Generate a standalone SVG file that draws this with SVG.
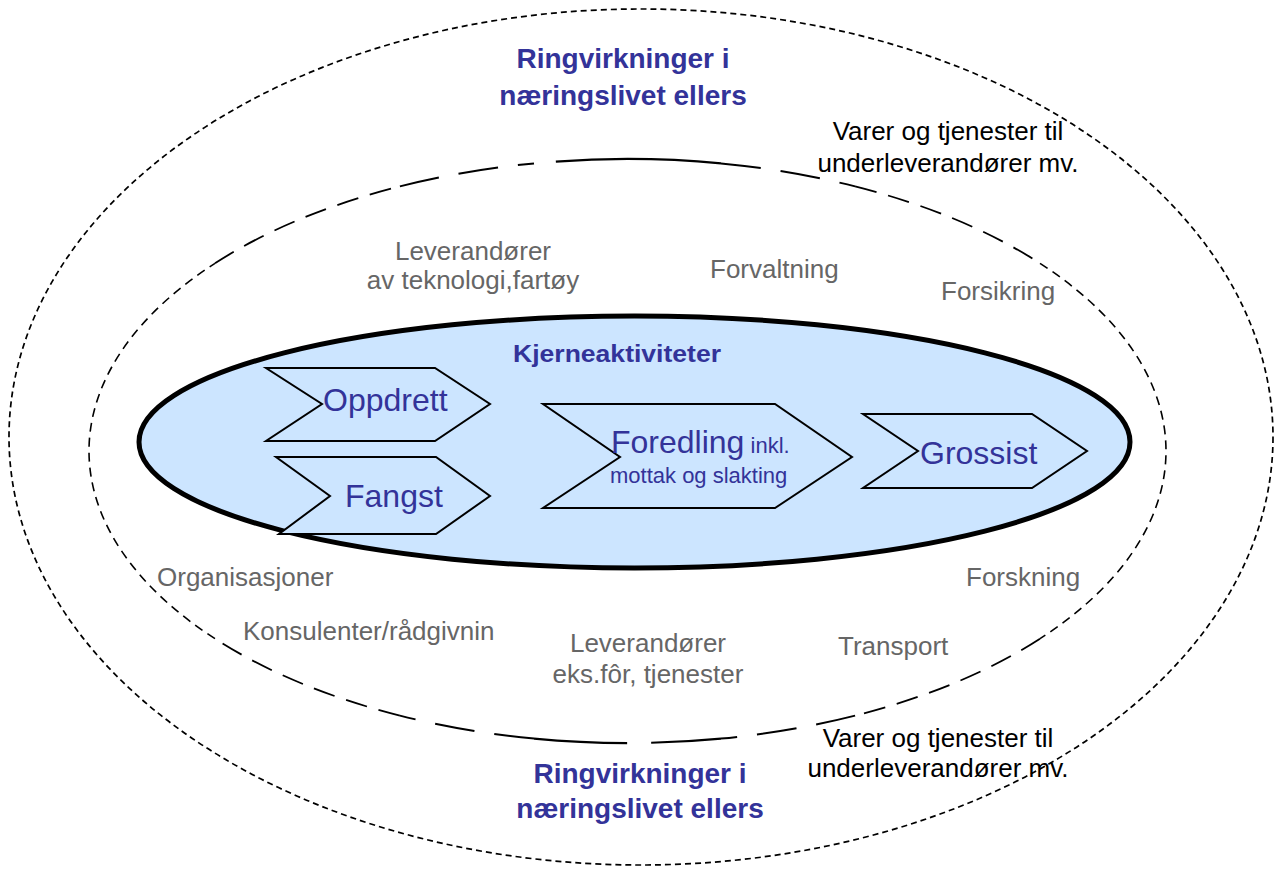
<svg xmlns="http://www.w3.org/2000/svg" width="1283" height="870" viewBox="0 0 1283 870">
<style>
.hd{font-family:"Liberation Sans",Arial,sans-serif;font-weight:bold;fill:#333399;font-size:28px;text-anchor:middle}
.gr{font-family:"Liberation Sans",Arial,sans-serif;fill:#666666;font-size:26px}
.bk{font-family:"Liberation Sans",Arial,sans-serif;fill:#000000;font-size:26px;text-anchor:middle}
.ch{fill:#CCE5FF;stroke:#000;stroke-width:2;stroke-linejoin:miter}
.cl{font-family:"Liberation Sans",Arial,sans-serif;fill:#333399;font-size:32px}
.mid{fill:none;stroke:#000}
</style>
<rect width="1283" height="870" fill="#fff"/>
<g id="outer-ring">
<ellipse cx="641" cy="437" rx="632" ry="428" fill="none" stroke="#000" stroke-width="1.7" stroke-dasharray="6 4"/>
</g>
<g id="middle-ring">
<path class="mid" stroke-width="1.6" stroke-dasharray="9 6" d="M1040,263.3 A538.5,292 0 0 1 1040,638.7"/>
<path class="mid" stroke-width="1.6" stroke-dasharray="9 6" d="M215,638.7 A538.5,292 0 0 1 215,263.3"/>
<path class="mid" stroke-width="1.8" stroke-dasharray="22 12" d="M855.1,186.4 A538.5,292 0 0 1 1040,263.3"/>
<path class="mid" stroke-width="1.8" stroke-dasharray="22 12" d="M215,263.3 A538.5,292 0 0 1 399.9,186.4"/>
<path class="mid" stroke-width="1.8" stroke-dasharray="22 12" d="M1040,638.7 A538.5,292 0 0 1 855.1,715.6"/>
<path class="mid" stroke-width="1.8" stroke-dasharray="22 12" d="M399.9,715.6 A538.5,292 0 0 1 215,638.7"/>
<path class="mid" stroke-width="2" stroke-dasharray="40 20" d="M721,163.4 A538.5,292 0 0 1 855.1,186.4"/>
<path class="mid" stroke-width="2" stroke-dasharray="40 20" d="M399.9,186.4 A538.5,292 0 0 1 534,163.4"/>
<path class="mid" stroke-width="2" stroke-dasharray="40 20" d="M855.1,715.6 A538.5,292 0 0 1 721,738.6"/>
<path class="mid" stroke-width="2" stroke-dasharray="40 20" d="M534,738.6 A538.5,292 0 0 1 399.9,715.6"/>
<path class="mid" stroke-width="2.2" stroke-dasharray="0 22 230 40" d="M534,163.4 A538.5,292 0 0 1 721,163.4"/>
<path class="mid" stroke-width="2.2" stroke-dasharray="70 24 100" d="M721,738.6 A538.5,292 0 0 1 534,738.6"/>
</g>
<g id="core">
<ellipse cx="634.5" cy="442" rx="495.5" ry="126" fill="#CCE5FF" stroke="#000" stroke-width="5"/>
<text class="hd" x="617" y="362" textLength="208" lengthAdjust="spacingAndGlyphs" style="font-size:23px">Kjerneaktiviteter</text>
</g>
<g id="oppdrett">
<polygon class="ch" points="266,368 435,368 490,404 435,441 266,441 322,404"/>
<text class="cl" x="323" y="411">Oppdrett</text>
</g>
<g id="fangst">
<polygon class="ch" points="276,457 436,457 490,496 436,534 279,534 330,496"/>
<text class="cl" x="345" y="507">Fangst</text>
</g>
<g id="foredling">
<polygon class="ch" points="543,404 775,404 852,457 775,508 543,508 620,457"/>
<text class="cl" x="611" y="453">Foredling<tspan style="font-size:22px"> inkl.</tspan></text>
<text class="cl" x="610" y="483" style="font-size:22px">mottak og slakting</text>
</g>
<g id="grossist">
<polygon class="ch" points="863,414 1032,414 1087,451 1032,488 863,488 918,451"/>
<text class="cl" x="920" y="464">Grossist</text>
</g>
<g id="labels">
<text class="hd" x="623" y="68">Ringvirkninger i</text>
<text class="hd" x="623" y="105">næringslivet ellers</text>
<text class="hd" x="640" y="783">Ringvirkninger i</text>
<text class="hd" x="640" y="818">næringslivet ellers</text>
<text class="bk" x="948" y="140">Varer og tjenester til</text>
<text class="bk" x="948" y="172">underleverandører mv.</text>
<text class="bk" x="938" y="747">Varer og tjenester til</text>
<text class="bk" x="938" y="777">underleverandører mv.</text>
<text class="gr" x="473" y="260" text-anchor="middle">Leverandører</text>
<text class="gr" x="473" y="289" text-anchor="middle">av teknologi,fartøy</text>
<text class="gr" x="710" y="278">Forvaltning</text>
<text class="gr" x="941" y="300">Forsikring</text>
<text class="gr" x="157" y="586">Organisasjoner</text>
<text class="gr" x="243" y="640">Konsulenter/rådgivnin</text>
<text class="gr" x="648" y="652" text-anchor="middle">Leverandører</text>
<text class="gr" x="648" y="683" text-anchor="middle">eks.fôr, tjenester</text>
<text class="gr" x="838" y="655">Transport</text>
<text class="gr" x="966" y="586">Forskning</text>
</g>
</svg>
